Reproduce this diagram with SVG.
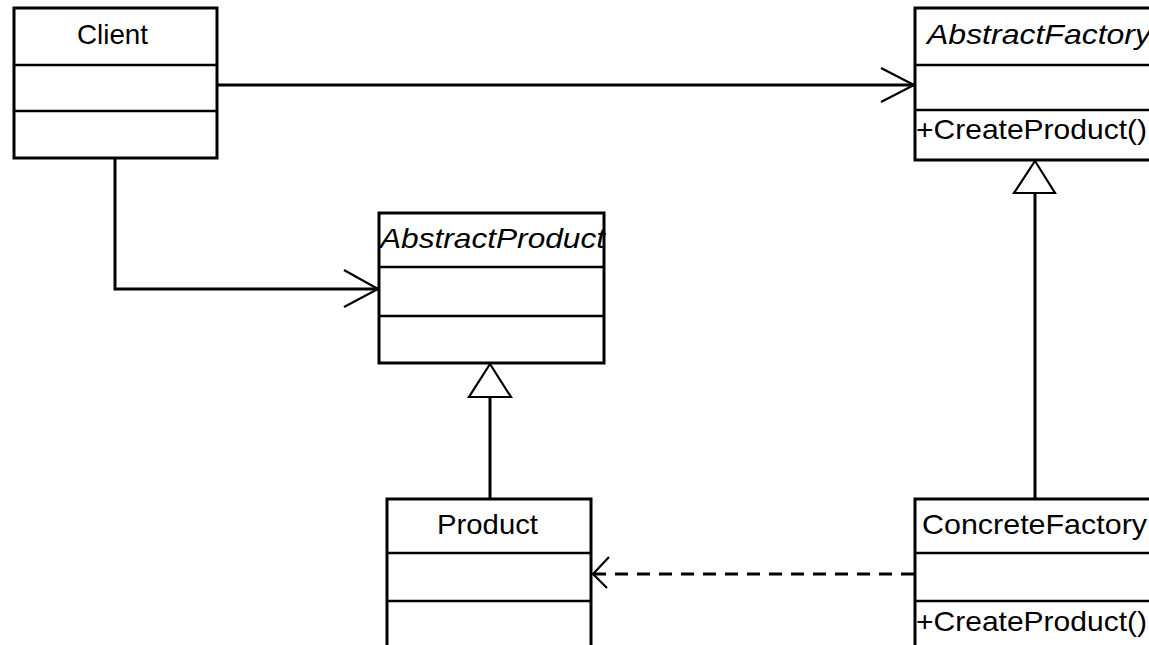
<svg xmlns="http://www.w3.org/2000/svg" width="1149" height="645" viewBox="0 0 1149 645">
  <style>
    .box { fill: #ffffff; stroke: #000000; stroke-width: 3; }
    .div { stroke: #000000; stroke-width: 2.5; }
    .lbl { font-family: "Liberation Sans", Arial, sans-serif; font-size: 28px; fill: #000000; }
    .abs { font-style: italic; }
    .line { fill: none; stroke: #000000; stroke-width: 3; }
    .dash { fill: none; stroke: #000000; stroke-width: 3; stroke-dasharray: 13 9; }
    .head { fill: none; stroke: #000000; stroke-width: 2.2; }
    .tri { fill: #ffffff; stroke: #000000; stroke-width: 2.2; }
  </style>
  <rect width="1149" height="645" fill="#ffffff"/>

  <!-- associations, dependency and generalisations -->
  <g id="connectors">
    <!-- Client to AbstractFactory -->
    <line class="line" x1="217" y1="85" x2="914" y2="85"/>
    <path class="head" d="M881,68 L914,85 L881,102"/>
    <!-- Client to AbstractProduct -->
    <polyline class="line" points="115,158 115,289 378,289"/>
    <path class="head" d="M344,270 L378,289 L344,307"/>
    <!-- ConcreteFactory depends on Product -->
    <line class="dash" x1="914" y1="574" x2="593" y2="574"/>
    <path class="head" d="M609,557 L593,574 L607,588"/>
    <!-- Product generalises to AbstractProduct -->
    <line class="line" x1="490" y1="397" x2="490" y2="499"/>
    <path class="tri" d="M490,364 L511,397 L469,397 Z"/>
    <!-- ConcreteFactory generalises to AbstractFactory -->
    <line class="line" x1="1035" y1="193" x2="1035" y2="499"/>
    <path class="tri" d="M1035,161 L1055,193 L1014,193 Z"/>
  </g>

  <g id="client">
    <rect class="box" x="14" y="8" width="203" height="150"/>
    <line class="div" x1="14" y1="65" x2="217" y2="65"/>
    <line class="div" x1="14" y1="111" x2="217" y2="111"/>
    <text class="lbl" x="77" y="44" textLength="71" lengthAdjust="spacingAndGlyphs">Client</text>
  </g>

  <g id="abstract-factory">
    <rect class="box" x="915" y="8" width="250" height="152"/>
    <line class="div" x1="915" y1="65" x2="1165" y2="65"/>
    <line class="div" x1="915" y1="110" x2="1165" y2="110"/>
    <text class="lbl abs" x="927" y="44" textLength="224" lengthAdjust="spacingAndGlyphs">AbstractFactory</text>
    <text class="lbl" x="916" y="139" textLength="231" lengthAdjust="spacingAndGlyphs">+CreateProduct()</text>
  </g>

  <g id="abstract-product">
    <rect class="box" x="379" y="213" width="225" height="150"/>
    <line class="div" x1="379" y1="267" x2="604" y2="267"/>
    <line class="div" x1="379" y1="316" x2="604" y2="316"/>
    <text class="lbl abs" x="380" y="248" textLength="225" lengthAdjust="spacingAndGlyphs">AbstractProduct</text>
  </g>

  <g id="product">
    <rect class="box" x="387" y="499" width="204" height="160"/>
    <line class="div" x1="387" y1="553" x2="591" y2="553"/>
    <line class="div" x1="387" y1="601" x2="591" y2="601"/>
    <text class="lbl" x="437" y="534" textLength="101" lengthAdjust="spacingAndGlyphs">Product</text>
  </g>

  <g id="concrete-factory">
    <rect class="box" x="915" y="499" width="250" height="160"/>
    <line class="div" x1="915" y1="553" x2="1165" y2="553"/>
    <line class="div" x1="915" y1="601" x2="1165" y2="601"/>
    <text class="lbl" x="922" y="534" textLength="225" lengthAdjust="spacingAndGlyphs">ConcreteFactory</text>
    <text class="lbl" x="916" y="631" textLength="231" lengthAdjust="spacingAndGlyphs">+CreateProduct()</text>
  </g>
</svg>
